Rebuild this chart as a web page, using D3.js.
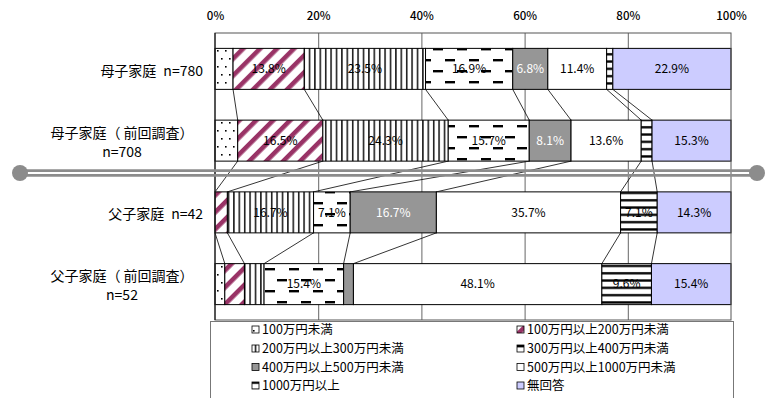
<!DOCTYPE html>
<html>
<head>
<meta charset="utf-8">
<script src="https://cdn.jsdelivr.net/npm/d3@7"></script>
<style>
  body { margin: 0; background: #fff; }
  text { font-family: "Noto Sans CJK JP", "Noto Sans", sans-serif; }
</style>
</head>
<body>
<svg id="chart" width="770" height="398"></svg>
<script>
// categories (top to bottom), label lines for each
const categories = ["母子家庭 n=780", "母子家庭（ 前回調査） n=708", "父子家庭 n=42", "父子家庭（ 前回調査） n=52"];
const categoryLines = [
    ["母子家庭\u2002n=780"],
    ["母子家庭（ 前回調査）", "n=708"],
    ["父子家庭\u2002n=42"],
    ["父子家庭（ 前回調査）", "n=52"]
];

// income bands (series)
const seriesNames = [
    "100万円未満", "100万円以上200万円未満", "200万円以上300万円未満", "300万円以上400万円未満",
    "400万円以上500万円未満", "500万円以上1000万円未満", "1000万円以上", "無回答"
];

// percentages per category
const under100   = [3.5, 4.4, 0.0, 1.9];
const from100    = [13.8, 16.5, 2.4, 3.8];
const from200    = [23.5, 24.3, 16.7, 3.8];
const from300    = [16.9, 15.7, 7.1, 15.4];
const from400    = [6.8, 8.1, 16.7, 1.9];
const from500    = [11.4, 13.6, 35.7, 48.1];
const over1000   = [1.2, 2.1, 7.1, 9.6];
const noAnswer   = [22.9, 15.3, 14.3, 15.4];

const seriesValues = [under100, from100, from200, from300, from400, from500, over1000, noAnswer];
const tickValues = [0, 0.2, 0.4, 0.6, 0.8, 1];

// build table for d3.stack
const table = categories.map((c, i) => {
    const row = {category: c};
    seriesNames.forEach((s, j) => { row[s] = seriesValues[j][i]; });
    return row;
});

const svg = d3.select("#chart");

// plot area
const plot = {left: 215, right: 731, top: 33, bottom: 320};

const xScale = d3.scaleLinear()
    .domain([0, 1])
    .range([plot.left, plot.right]);

const yScale = d3.scaleBand()
    .domain(categories)
    .range([plot.top, plot.bottom])
    .paddingInner(0.4286)
    .paddingOuter(0.2143);

const stack = d3.stack()
    .keys(seriesNames)
    .offset(d3.stackOffsetExpand);
const layers = stack(table);

// patterns
const defs = svg.append("defs");

const pDots = defs.append("pattern").attr("id", "p0")
    .attr("patternUnits", "userSpaceOnUse").attr("width", 8).attr("height", 16);
pDots.append("rect").attr("width", 8).attr("height", 16).attr("fill", "#fff");
pDots.append("rect").attr("x", 1).attr("y", 2).attr("width", 1.6).attr("height", 1.6).attr("fill", "#000");
pDots.append("rect").attr("x", 5).attr("y", 10).attr("width", 1.6).attr("height", 1.6).attr("fill", "#000");

const pDiag = defs.append("pattern").attr("id", "p1")
    .attr("patternUnits", "userSpaceOnUse").attr("width", 12).attr("height", 12)
    .attr("patternTransform", "rotate(45)");
pDiag.append("rect").attr("width", 12).attr("height", 12).attr("fill", "#fff");
pDiag.append("rect").attr("width", 4.6).attr("height", 12).attr("fill", "#993366");

const pVert = defs.append("pattern").attr("id", "p2")
    .attr("patternUnits", "userSpaceOnUse").attr("width", 5.4).attr("height", 10);
pVert.append("rect").attr("width", 5.4).attr("height", 10).attr("fill", "#fff");
pVert.append("rect").attr("x", 1).attr("width", 1.4).attr("height", 10).attr("fill", "#000");

const pDash = defs.append("pattern").attr("id", "p3")
    .attr("patternUnits", "userSpaceOnUse").attr("width", 24).attr("height", 22)
    .attr("y", 4);
pDash.append("rect").attr("width", 24).attr("height", 22).attr("fill", "#fff");
pDash.append("rect").attr("x", 1).attr("y", 0).attr("width", 10).attr("height", 2.4).attr("fill", "#000");
pDash.append("rect").attr("x", 13).attr("y", 11).attr("width", 10).attr("height", 2.4).attr("fill", "#000");

const pHorz = defs.append("pattern").attr("id", "p6")
    .attr("patternUnits", "userSpaceOnUse").attr("width", 10).attr("height", 7.3);
pHorz.append("rect").attr("width", 10).attr("height", 7.3).attr("fill", "#fff");
pHorz.append("rect").attr("y", 2).attr("width", 10).attr("height", 2.3).attr("fill", "#000");

const fills = ["url(#p0)", "url(#p1)", "url(#p2)", "url(#p3)", "#969696", "#ffffff", "url(#p6)", "#ccccff"];
const labelColors = ["#000", "#000", "#000", "#000", "#fff", "#000", "#000", "#000"];

// gridlines
svg.append("g")
    .attr("class", "grid")
    .attr("transform", `translate(0,${plot.bottom})`)
    .call(d3.axisBottom(xScale).tickValues([0.2, 0.4, 0.6, 0.8])
        .tickSize(-(plot.bottom - plot.top)).tickFormat(""))
    .call(g => g.select(".domain").remove())
    .call(g => g.selectAll("line").attr("stroke", "#666").attr("stroke-width", 1));

// top tick labels
svg.append("g")
    .attr("transform", `translate(0,${plot.top})`)
    .call(d3.axisTop(xScale).tickValues(tickValues).tickFormat(d3.format(".0%"))
        .tickSize(0).tickPadding(13))
    .call(g => g.select(".domain").remove())
    .call(g => g.selectAll("text")
        .attr("font-size", 11.5)
        .attr("font-family", "'Noto Sans CJK JP', sans-serif")
        .attr("font-weight", 500)
        .attr("fill", "#000"));

// series lines between neighbouring bars
const bw = yScale.bandwidth();
const seriesLines = svg.append("g");
layers.slice(0, -1).forEach(layer => {
    for (let i = 0; i < layer.length - 1; i++) {
        seriesLines.append("line")
            .attr("x1", xScale(layer[i][1]))
            .attr("y1", yScale(categories[i]) + bw)
            .attr("x2", xScale(layer[i + 1][1]))
            .attr("y2", yScale(categories[i + 1]))
            .attr("stroke", "#000")
            .attr("stroke-width", 0.8);
    }
});

// bars
const groups = svg.append("g").selectAll("g")
    .data(layers)
    .join("g")
    .attr("fill", (d, i) => fills[i]);

groups.selectAll("rect")
    .data(d => d)
    .join("rect")
    .attr("x", d => xScale(d[0]))
    .attr("y", d => yScale(d.data.category))
    .attr("width", d => xScale(d[1]) - xScale(d[0]))
    .attr("height", bw)
    .attr("stroke", d => (d[1] - d[0]) > 0 ? "#000" : "none")
    .attr("stroke-width", 1);

// value labels (only for segments of 5% or more)
const fmt = d3.format(".1f");
layers.forEach((layer, j) => {
    svg.append("g").selectAll("text")
        .data(layer.filter(d => (d[1] - d[0]) >= 0.05))
        .join("text")
        .attr("x", d => xScale((d[0] + d[1]) / 2))
        .attr("y", d => yScale(d.data.category) + bw / 2)
        .attr("dy", "0.35em")
        .attr("text-anchor", "middle")
        .attr("font-size", 12)
        .attr("fill", labelColors[j])
        .text(d => fmt(d.data[layer.key]) + "%");
});

// plot frame
svg.append("rect")
    .attr("x", plot.left).attr("y", plot.top)
    .attr("width", plot.right - plot.left).attr("height", plot.bottom - plot.top)
    .attr("fill", "none").attr("stroke", "#555").attr("stroke-width", 1);
svg.append("line")
    .attr("x1", plot.left).attr("x2", plot.left)
    .attr("y1", plot.top).attr("y2", plot.bottom)
    .attr("stroke", "#000");

// category labels
categoryLines.forEach((lines, i) => {
    const cy = yScale(categories[i]) + bw / 2;
    if (lines.length === 1) {
        svg.append("text")
            .attr("x", 203).attr("y", cy + 2)
            .attr("dy", "0.35em")
            .attr("text-anchor", "end")
            .attr("font-size", 14)
            .text(lines[0]);
    } else {
        lines.forEach((t, k) => {
            svg.append("text")
                .attr("x", 122).attr("y", cy - 8 + k * 19)
                .attr("dy", "0.35em")
                .attr("text-anchor", "middle")
                .attr("font-size", 14)
                .text(t);
        });
    }
});

// break mark between the two groups
const brk = svg.append("g");
brk.append("line").attr("x1", 20).attr("x2", 757).attr("y1", 170.6).attr("y2", 170.6)
    .attr("stroke", "#8c8c8c").attr("stroke-width", 2.7);
brk.append("line").attr("x1", 20).attr("x2", 757).attr("y1", 175.4).attr("y2", 175.4)
    .attr("stroke", "#8c8c8c").attr("stroke-width", 2.7);
brk.append("circle").attr("cx", 20).attr("cy", 173).attr("r", 8).attr("fill", "#8c8c8c");
brk.append("circle").attr("cx", 757).attr("cy", 173).attr("r", 8).attr("fill", "#8c8c8c");

// legend
const legend = svg.append("g");
legend.append("rect")
    .attr("x", 210.5).attr("y", 321.5).attr("width", 523).attr("height", 100)
    .attr("fill", "#fff").attr("stroke", "#777").attr("stroke-width", 1);

const colX = [252, 517];
const rowY = [330, 349, 367.5, 386];
seriesNames.forEach((name, i) => {
    const cx = colX[i % 2];
    const cy = rowY[Math.floor(i / 2)];
    legend.append("rect")
        .attr("x", cx).attr("y", cy - 4)
        .attr("width", 7).attr("height", 7)
        .attr("fill", fills[i])
        .attr("stroke", "#000").attr("stroke-width", 0.8);
    legend.append("text")
        .attr("x", cx + 10).attr("y", cy)
        .attr("dy", "0.35em")
        .attr("font-size", 12.5)
        .text(name);
});
</script>
</body>
</html>
